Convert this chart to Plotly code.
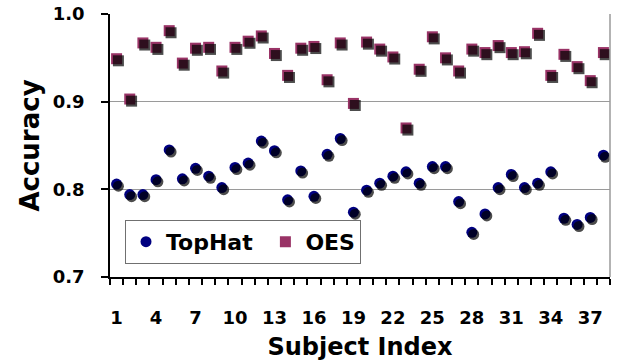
import plotly.graph_objects as go

subjects = list(range(1, 39))
tophat = [0.806, 0.794, 0.794, 0.811, 0.845, 0.812, 0.824, 0.815, 0.802, 0.825,
          0.830, 0.855, 0.844, 0.788, 0.821, 0.792, 0.840, 0.858, 0.774, 0.799,
          0.807, 0.815, 0.820, 0.807, 0.826, 0.826, 0.786, 0.751, 0.772, 0.802,
          0.817, 0.802, 0.807, 0.820, 0.767, 0.760, 0.768, 0.839]
oes = [0.949, 0.903, 0.967, 0.962, 0.981, 0.944, 0.961, 0.962, 0.935, 0.962,
       0.969, 0.975, 0.955, 0.930, 0.961, 0.963, 0.925, 0.967, 0.898, 0.968,
       0.960, 0.951, 0.870, 0.937, 0.974, 0.950, 0.935, 0.960, 0.956, 0.964,
       0.956, 0.957, 0.978, 0.930, 0.954, 0.940, 0.924, 0.956]
x_ticks = list(range(1, 39, 3))

FONT = "DejaVu Sans, Arial, sans-serif"
NAVY = "#000080"
PLUM = "#993366"
XR = [0.5, 38.5]
YR = [0.7, 1.0]
dx, dy = 0.14, 0.0024

fig = go.Figure()
# shadows
fig.add_trace(go.Scatter(x=subjects, y=tophat, mode="markers", xaxis="x2", yaxis="y2",
                         marker=dict(symbol="circle", size=11, color="rgba(0,0,0,0.7)"),
                         showlegend=False, hoverinfo="skip"))
fig.add_trace(go.Scatter(x=subjects, y=oes, mode="markers", xaxis="x2", yaxis="y2",
                         marker=dict(symbol="square", size=11, color="rgba(0,0,0,0.7)"),
                         showlegend=False, hoverinfo="skip"))
fig.add_trace(go.Scatter(x=subjects, y=tophat, mode="markers", name="TopHat\u00a0",
                         marker=dict(symbol="circle", size=11, color=NAVY)))
fig.add_trace(go.Scatter(x=subjects, y=oes, mode="markers", name="OES",
                         marker=dict(symbol="square", size=11, color=PLUM)))

fig.update_layout(
    width=621, height=364,
    margin=dict(l=110, r=11, t=14, b=87),
    paper_bgcolor="white", plot_bgcolor="white",
    font=dict(family=FONT, size=18, color="black", weight="bold"),
    xaxis=dict(range=XR, tickvals=x_ticks, ticks="", showgrid=False, zeroline=False,
               showline=True, linecolor="black", linewidth=1.5, automargin=False,
               tickfont=dict(size=18, weight="bold"), ticklabelstandoff=24,
               minor=dict(tick0=0.5, dtick=1, ticks="outside", ticklen=6,
                          tickcolor="black", tickwidth=1.5, showgrid=False),
               title=dict(text="Subject Index", font=dict(size=24, weight="bold"), standoff=11)),
    yaxis=dict(range=YR, dtick=0.1, tickformat=".1f", ticks="outside", ticklen=7,
               tickcolor="black", tickwidth=1.5, showline=True, linecolor="black", linewidth=1.5,
               showgrid=True, gridcolor="#9a9a9a", gridwidth=1, zeroline=False, automargin=False,
               tickfont=dict(size=18, weight="bold"), ticklabelstandoff=13,
               title=dict(text="Accuracy", font=dict(size=26, weight="bold"), standoff=6)),
    xaxis2=dict(range=[XR[0] - dx, XR[1] - dx], overlaying="x", visible=False),
    yaxis2=dict(range=[YR[0] + dy, YR[1] + dy], overlaying="y", visible=False),
    legend=dict(orientation="h", x=0.03, y=0.05, xanchor="left", yanchor="bottom",
                bgcolor="white", bordercolor="#707070", borderwidth=1,
                font=dict(size=22, weight="bold"), itemwidth=30),
    shapes=[dict(type="line", xref="paper", yref="paper", x0=1, x1=1, y0=0, y1=1,
                 line=dict(color="#9a9a9a", width=1.5))],
)

fig.write_html("out.html")
